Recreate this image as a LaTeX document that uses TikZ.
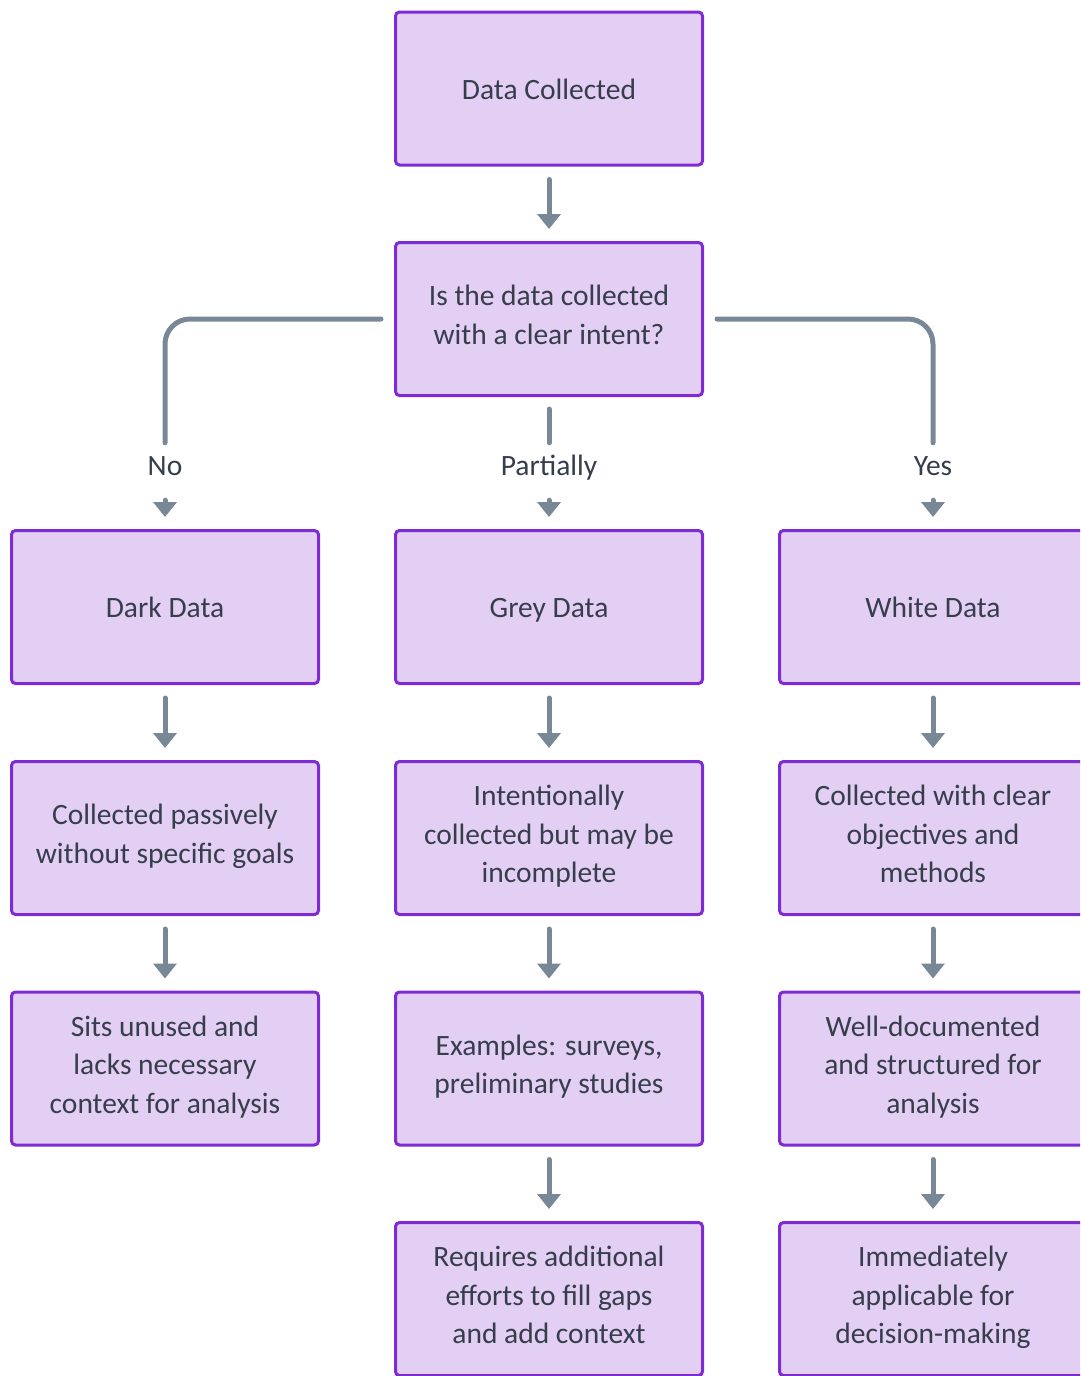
\documentclass[tikz,border=0pt]{standalone}
\usepackage{fontspec}
\setmainfont{Carlito}
\usetikzlibrary{positioning}
\usetikzlibrary{arrows.meta}

\definecolor{boxfill}{HTML}{E3CEF4}
\definecolor{boxline}{HTML}{7E2BD6}
\definecolor{flowgray}{HTML}{788896}
\definecolor{textgray}{HTML}{363E4C}

\newcommand{\topstrut}{\rule{0pt}{30pt}}
\newcommand{\botstrut}{\rule[-8.5pt]{0pt}{8.5pt}}

\begin{document}
\begin{tikzpicture}[x=1pt,y=-1pt,
    box/.style={draw=boxline, fill=boxfill, line width=3pt, rounded corners=4pt,
        minimum width=307pt, minimum height=153pt, inner sep=0pt, align=center,
        text=textgray, font=\fontsize{29.5}{38.5}\selectfont,
        execute at begin node=\topstrut, execute at end node=\botstrut},
    lbl/.style={minimum height=44pt, inner sep=2pt, text=textgray,
        font=\fontsize{29.5}{38.5}\selectfont,
        execute at begin node=\topstrut\botstrut},
    flow/.style={draw=flowgray, line width=5pt, rounded corners=25pt, line cap=round},
    arr/.style={flow, -{Triangle[width=23pt,length=15pt]}, shorten <=13pt, shorten >=12pt}]

% Page
\clip (0,0) rectangle (1080,1376);

% Columns
\def\colA{165}
\def\colB{549}
\def\colC{933}

% Top
\node[box] (data) at (\colB,88.5) {Data Collected};
\node[box] (intent) at (\colB,319) {Is the data collected\\with a clear intent?};

% Branch labels
\node[lbl] (no) at (\colA,465) {No};
\node[lbl] (part) at (\colB,465) {Partially};
\node[lbl] (yes) at (\colC,465) {Yes};

% Dark data
\node[box] (dark) at (\colA,607) {Dark Data};
\node[box] (darkhow) at (\colA,838) {Collected passively\\without specific goals};
\node[box] (darkuse) at (\colA,1068.5) {Sits unused and\\lacks necessary\\context for analysis};

% Grey data
\node[box] (grey) at (\colB,607) {Grey Data};
\node[box] (greyhow) at (\colB,838) {Intentionally\\collected but may be\\incomplete};
\node[box] (greyex) at (\colB,1068.5) {Examples: surveys,\\preliminary studies};
\node[box] (greyuse) at (\colB,1299) {Requires additional\\efforts to fill gaps\\and add context};

% White data
\node[box] (white) at (\colC,607) {White Data};
\node[box] (whitehow) at (\colC,838) {Collected with clear\\objectives and\\methods};
\node[box] (whitedoc) at (\colC,1068.5) {Well-documented\\and structured for\\analysis};
\node[box] (whiteuse) at (\colC,1299) {Immediately\\applicable for\\decision-making};

% Decision
\draw[arr] (data) -- (intent);
\draw[flow, shorten <=13pt] (intent.west) -| (no);
\draw[flow, shorten <=12pt] (intent) -- (part);
\draw[flow, shorten <=13pt] (intent.east) -| (yes);

% Chains
\foreach \a/\b in {no/dark, dark/darkhow, darkhow/darkuse,
    part/grey, grey/greyhow, greyhow/greyex, greyex/greyuse,
    yes/white, white/whitehow, whitehow/whitedoc, whitedoc/whiteuse}
{
    \draw[arr] (\a) -- (\b);
}

\end{tikzpicture}
\end{document}
